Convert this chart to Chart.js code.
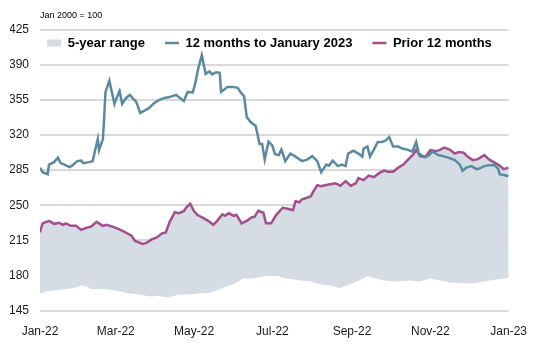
<!DOCTYPE html>
<html>
<head>
<meta charset="utf-8">
<title>Index, Jan 2000 = 100</title>
<script src="https://cdn.jsdelivr.net/npm/chart.js@4.4.1/dist/chart.umd.min.js"></script>
<style>
  html, body { margin: 0; padding: 0; background: #fff; }
  #chartBox { width: 533px; height: 348px; }
</style>
</head>
<body>
<div id="chartBox"><canvas id="indexChart" width="533" height="348"></canvas></div>
<script>
// x is days since 1 Jan 2022
const xTickDays = [0, 59, 120, 181, 243, 304, 365];
const xTickLabels = ["Jan-22", "Mar-22", "May-22", "Jul-22", "Sep-22", "Nov-22", "Jan-23"];
const yMin = 145;
const yMax = 425;
const yStep = 35;
const baseNote = "Jan 2000 = 100";

const seriesLabels = ["5-year range", "12 months to January 2023", "Prior 12 months"];

// 12 months to January 2023
const recentDays = [
  0, 2, 6, 7, 11, 14, 16, 19, 23, 25,
  29, 32, 34, 38, 41, 43, 45, 46, 49, 50,
  51, 54, 58, 59, 62, 64, 67, 70, 72, 75,
  78, 81, 85, 89, 93, 97, 101, 106, 109, 112,
  115, 119, 121, 123, 126, 129, 132, 134, 137, 140,
  141, 143, 146, 150, 154, 156, 159, 161, 164, 168,
  171, 173, 175, 178, 181, 183, 186, 188, 191, 195,
  199, 204, 208, 212, 216, 219, 223, 225, 228, 232,
  235, 238, 240, 244, 248, 251, 252, 255, 257, 260,
  263, 266, 269, 272, 275, 279, 282, 286, 290, 293,
  295, 299, 302, 306, 310, 314, 319, 323, 327, 329,
  332, 336, 340, 342, 346, 350, 354, 357, 358, 362,
  365
];
const recentValues = [
  287.5, 283, 281, 290.5, 293, 297.5, 292, 290.5, 288, 289.5,
  294, 294.5, 292, 293, 294, 305, 316, 305, 316, 338,
  363, 374, 351, 355, 364, 351, 357, 360, 357, 353,
  342, 344, 347, 352, 355, 357, 358, 360, 357, 354,
  363, 362.5, 372, 385, 399.5, 381, 383.5, 380.5, 382.5, 382,
  363, 365, 368, 368, 367, 363, 358.5, 338, 333, 329,
  311, 311, 295.5, 313.5, 309.5, 301, 300, 305.5, 294, 301.5,
  298.5, 294, 295.5, 299, 294, 283, 290.5, 289.5, 294.5, 289,
  290.5, 289, 301.5, 304.5, 301.5, 298.5, 306.5, 308.5, 298.5, 305.5,
  313, 313, 314.5, 318, 308.5, 308.5, 306.5, 305.5, 303.5, 313,
  301.5, 298.5, 299, 303.5, 300, 299, 297, 295, 290.5, 284.5,
  287.5, 289, 286, 286.5, 289, 290, 290, 286, 281, 280,
  279
];

// Prior 12 months (also the top of the 5-year range)
const priorDays = [
  0, 2, 7, 11, 15, 18, 20, 24, 28, 32,
  36, 40, 44, 49, 52, 58, 61, 65, 71, 74,
  80, 83, 87, 91, 95, 98, 101, 105, 108, 112,
  114, 117, 120, 123, 127, 131, 135, 138, 142, 144,
  147, 151, 153, 157, 161, 165, 167, 170, 174, 176,
  180, 184, 189, 193, 197, 199, 202, 204, 208, 211,
  213, 216, 219, 222, 226, 230, 234, 238, 242, 246,
  248, 252, 256, 260, 264, 268, 271, 275, 279, 283,
  287, 291, 293, 296, 300, 304, 308, 311, 315, 319,
  323, 326, 330, 333, 337, 341, 346, 350, 354, 358,
  361, 365
];
const priorValues = [
  223, 232, 234.5, 231.5, 232.5, 230.5, 232, 229.5, 229.5, 225.5,
  227.5, 229, 233.5, 229.5, 230.5, 228, 226.5, 224, 220, 214.5,
  211.5, 212.5, 216, 218, 222, 223, 233.5, 243, 242, 244,
  248, 251.5, 244, 240, 237.5, 234.5, 230.5, 234.5, 241, 239.5,
  242, 239.5, 240.5, 232, 234.5, 238, 238.5, 244.5, 242.5, 232,
  232, 240.5, 247.5, 246.5, 245, 254, 253, 256, 257.5, 259,
  264, 270, 269, 270, 271, 272, 269.5, 274, 269.5, 272,
  277, 275, 279.5, 278, 282, 284.5, 283.5, 283.5, 287.5, 290.5,
  296, 301, 305.5, 299, 298, 305, 304, 305, 307.5, 305.5,
  301.5, 303, 302.5, 298.5, 295, 296, 300, 295.5, 292.5, 289.5,
  286, 287.5
];

// bottom of the 5-year range
const rangeLowDays = [
  0, 5, 12, 20, 27, 32, 36, 40, 49, 59,
  67, 77, 86, 92, 100, 108, 116, 123, 131, 138,
  145, 152, 158, 165, 170, 178, 183, 188, 195, 203,
  211, 219, 226, 233, 239, 247, 255, 260, 268, 278,
  288, 296, 304, 312, 319, 327, 335, 342, 350, 358,
  365
];
const rangeLowValues = [
  162, 164, 165, 166.5, 167.5, 170, 169, 166.5, 166.5, 165,
  162.5, 161, 159, 159.5, 158, 161, 161, 162, 162.5, 165,
  169, 172, 177, 177, 178, 180, 181, 178, 176.5, 175,
  174, 171, 170, 167.5, 170, 174, 179.5, 177.5, 175, 174,
  175, 174, 177, 175, 173, 172.5, 172, 173, 175, 176.5,
  177.5
];

const colors = {
  range: "#d6dce4",
  recent: "#5a8aa2",
  prior: "#a24f8d",
  grid: "#d9d9d9",
  text: "#1a1a1a"
};

Chart.defaults.font.family = "'Liberation Sans', Arial, sans-serif";
Chart.defaults.color = colors.text;

const toPoints = (days, values) => days.map((d, i) => ({ x: d, y: values[i] }));

// legend sits inside the plot, over the top band of gridlines:
// it reserves only a thin strip, then its clip box is opened up again
const legendOverlap = {
  id: "legendOverlap",
  beforeInit(chart) {
    const fit = chart.legend.fit;
    chart.legend.fit = function () {
      fit.call(this);
      this.height = 13.2;
    };
  },
  afterLayout(chart) {
    chart.legend.bottom = chart.legend.top + 40;
  }
};

const baseNotePlugin = {
  id: "baseNote",
  afterDraw(chart) {
    const { ctx, chartArea } = chart;
    ctx.save();
    ctx.font = "9px 'Liberation Sans', Arial, sans-serif";
    ctx.fillStyle = "#000";
    ctx.textBaseline = "middle";
    ctx.fillText(baseNote, chartArea.left, chartArea.top - 14);
    ctx.restore();
  }
};

renderChart();

function renderChart() {
  const ctx = document.getElementById("indexChart");

  new Chart(ctx, {
    type: "line",
    data: {
      datasets: [
        {
          label: seriesLabels[0],
          data: toPoints(rangeLowDays, rangeLowValues),
          borderWidth: 0,
          borderColor: colors.range,
          backgroundColor: colors.range,
          fill: 2,
          pointRadius: 0,
          pointStyle: "rect"
        },
        {
          label: seriesLabels[1],
          data: toPoints(recentDays, recentValues),
          borderColor: colors.recent,
          backgroundColor: colors.recent,
          borderWidth: 2.5,
          fill: false,
          pointRadius: 0,
          pointStyle: "line"
        },
        {
          label: seriesLabels[2],
          data: toPoints(priorDays, priorValues),
          borderColor: colors.prior,
          backgroundColor: colors.prior,
          borderWidth: 2.5,
          fill: false,
          pointRadius: 0,
          pointStyle: "line"
        }
      ]
    },
    options: {
      responsive: false,
      animation: false,
      devicePixelRatio: 1,
      layout: { padding: { left: 10, right: 4, top: 16.5, bottom: 3 } },
      elements: { line: { tension: 0 } },
      plugins: {
        filler: { drawTime: "beforeDatasetsDraw" },
        tooltip: { enabled: false },
        legend: {
          position: "top",
          align: "center",
          labels: {
            usePointStyle: true,
            pointStyleWidth: 14,
            boxHeight: 7,
            padding: 20,
            color: "#000",
            font: { size: 13, weight: "bold" }
          }
        }
      },
      scales: {
        x: {
          type: "linear",
          min: 0,
          max: 365,
          grid: { display: false },
          border: { display: false },
          afterBuildTicks(scale) {
            scale.ticks = xTickDays.map(value => ({ value }));
          },
          ticks: {
            autoSkip: false,
            maxRotation: 0,
            padding: 6,
            color: colors.text,
            font: { size: 12 },
            callback: (value, index) => xTickLabels[index]
          }
        },
        y: {
          min: yMin,
          max: yMax,
          afterFit(scale) {
            scale.width = 30;
          },
          grid: { color: colors.grid, lineWidth: 2, drawTicks: false },
          border: { display: false },
          ticks: {
            stepSize: yStep,
            padding: 11,
            color: colors.text,
            font: { size: 12 }
          }
        }
      }
    },
    plugins: [legendOverlap, baseNotePlugin]
  });
}
</script>
</body>
</html>
